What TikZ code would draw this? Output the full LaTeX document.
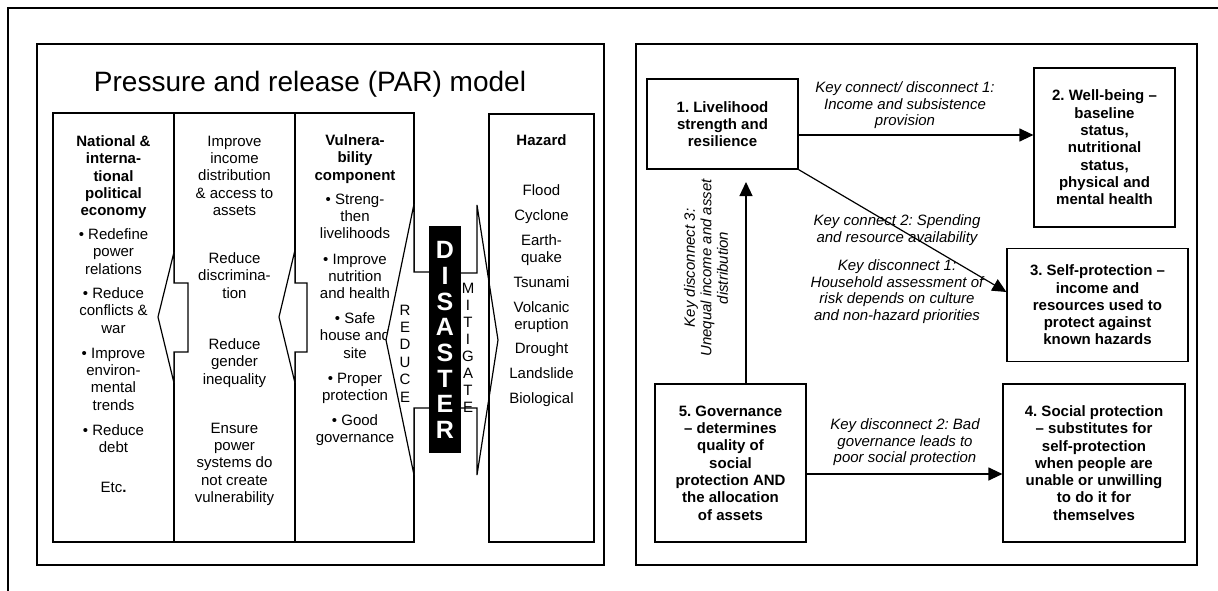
\documentclass[tikz,border=0pt]{standalone}
\usepackage{fontspec}
\setmainfont{Liberation Sans}
\usetikzlibrary{arrows.meta,calc}
\frenchspacing
\begin{document}
\begin{tikzpicture}[x=1pt,y=-1pt,
 every node/.style={inner sep=0pt},
 frameline/.style={line width=1.6pt},
 panelline/.style={line width=2.4pt},
 colline/.style={line width=1.2pt},
 arrshape/.style={line width=1.2pt, fill=white, line join=miter},
 ctext/.style={font=\fontsize{15}{17.3}\selectfont, align=center, anchor=north, yshift=5.4pt},
 cbold/.style={ctext, font=\fontsize{15}{17.3}\selectfont\bfseries},
 ltext/.style={font=\fontsize{15}{16.6}\selectfont\itshape, align=center, anchor=north, yshift=5.4pt},
 rbox/.style={draw, line width=1.2pt, align=center, font=\fontsize{15}{17.3}\selectfont\bfseries, inner sep=0pt},
 conn/.style={line width=1.2pt, -{Triangle[length=14pt,width=13pt]}},
 dletter/.style={font=\fontsize{25}{25}\selectfont\bfseries, text=white},
 rletter/.style={font=\fontsize{15}{15}\selectfont},
]
\useasboundingbox (0,0) rectangle (1218,591);
% outer frame
\draw[frameline] (8,591) -- (8,8) -- (1218,8);
% panels
\draw[panelline] (37,44) rectangle (604,565);
\draw[panelline] (636,44) rectangle (1197,565);

% ===== left panel =====
\node[font=\fontsize{28}{30}\selectfont, anchor=base] (title) at (310,92) {Pressure and release (PAR) model};

\draw[colline] (53,113) rectangle (174,542);
\draw[colline] (174,113) rectangle (295,542);
\draw[colline] (295,113) rectangle (414,542);

% column 1
\node[cbold] (c1h) at (113.5,141) {National \&\\interna-\\tional\\political\\economy};
\node[ctext] (c1a) at (113.5,234) {• Redefine\\power\\relations};
\node[ctext] (c1b) at (113.5,293) {• Reduce\\conflicts \&\\war};
\node[ctext] (c1c) at (113.5,353) {• Improve\\environ-\\mental\\trends};
\node[ctext] (c1d) at (113.5,430) {• Reduce\\debt};
\node[ctext] (c1e) at (113.5,487) {Etc{\bfseries .}};
% column 2
\node[ctext] (c2a) at (234.5,141) {Improve\\income\\distribution\\\& access to\\assets};
\node[ctext] (c2b) at (234.5,258) {Reduce\\discrimina-\\tion};
\node[ctext] (c2c) at (234.5,344) {Reduce\\gender\\inequality};
\node[ctext] (c2d) at (234.5,428) {Ensure\\power\\systems do\\not create\\vulnerability};
% column 3
\node[cbold] (c3h) at (355,140) {Vulnera-\\bility\\component};
\node[ctext] (c3a) at (355,199) {• Streng-\\then\\livelihoods};
\node[ctext] (c3b) at (355,259) {• Improve\\nutrition\\and health};
\node[ctext] (c3c) at (355,318) {• Safe\\house and\\site};
\node[ctext] (c3d) at (355,378) {• Proper\\protection};
\node[ctext] (c3e) at (355,420) {• Good\\governance};

% release arrows between columns
\draw[arrshape] (158,317) -- (174,252) -- (174,283) -- (188,283) -- (188,352) -- (174,352) -- (174,383) -- cycle;
\draw[arrshape] (279,317) -- (295,250) -- (295,283) -- (307,283) -- (307,352) -- (295,352) -- (295,383) -- cycle;
% REDUCE and MITIGATE arrows
\draw[arrshape] (386,340) -- (414,204) -- (414,272) -- (440,272) -- (440,408) -- (414,408) -- (414,475) -- cycle;
\draw[arrshape] (498,340) -- (477,205) -- (477,273) -- (450,273) -- (450,408) -- (477,408) -- (477,475) -- cycle;

% DISASTER box
\node[fill=black, minimum width=32pt, minimum height=227pt] (dis) at (445,339.5) {};
\foreach \l [count=\i from 0] in {D,I,S,A,S,T,E,R}
  \node[dletter] (dl\i) at (445,{250+25.7*\i}) {\l};
\foreach \l [count=\i from 0] in {R,E,D,U,C,E}
  \node[rletter] (rl\i) at (405,{310+17.4*\i}) {\l};
\foreach \l [count=\i from 0] in {M,I,T,I,G,A,T,E}
  \node[rletter] (ml\i) at (468,{288+17.1*\i}) {\l};

% hazard column
\draw[colline] (489,114) rectangle (594,542);
\node[cbold] (hz) at (541.5,140) {Hazard};
\node[ctext] (h1) at (541.5,190) {Flood};
\node[ctext] (h2) at (541.5,215) {Cyclone};
\node[ctext] (h3) at (541.5,240) {Earth-\\quake};
\node[ctext] (h4) at (541.5,282) {Tsunami};
\node[ctext] (h5) at (541.5,307) {Volcanic\\eruption};
\node[ctext] (h6) at (541.5,348) {Drought};
\node[ctext] (h7) at (541.5,373) {Landslide};
\node[ctext] (h8) at (541.5,398) {Biological};

% ===== right panel =====
\node[rbox, minimum width=151pt, minimum height=90pt] (b1) at (722.5,124) {1. Livelihood\\strength and\\resilience};
\node[rbox, minimum width=141pt, minimum height=159pt] (b2) at (1104.5,147.5) {2. Well-being –\\baseline\\status,\\nutritional\\status,\\physical and\\mental health};
\node[rbox, minimum width=181pt, minimum height=113pt] (b3) at (1097.5,305) {3. Self-protection –\\income and\\resources used to\\protect against\\known hazards};
\node[rbox, minimum width=182pt, minimum height=158pt] (b4) at (1094,463) {4. Social protection\\– substitutes for\\self-protection\\when people are\\unable or unwilling\\to do it for\\themselves};
\node[rbox, minimum width=151pt, minimum height=158pt] (b5) at (730.5,463) {5. Governance\\– determines\\quality of\\social\\protection AND\\the allocation\\of assets};

\coordinate (h1y) at (0,135);
\coordinate (dgy) at (0,292);
\coordinate (h2y) at (0,474);
\coordinate (vt) at (746,182);
\draw[conn] (b1.east |- h1y) -- (b2.west |- h1y);
\draw[conn] (b1.south east) -- (b3.west |- dgy);
\draw[conn] (b5.north -| vt) -- (vt);
\draw[conn] (b5.east |- h2y) -- (b4.west |- h2y);

\node[ltext] (l1) at (905,87) {Key connect/ disconnect 1:\\Income and subsistence\\provision};
\node[ltext] (l2) at (897,220) {Key connect 2: Spending\\and resource availability};
\node[ltext] (l2b) at (897,265) {Key disconnect 1:\\Household assessment of\\risk depends on culture\\and non-hazard priorities};
\node[ltext] (l4) at (905,424) {Key disconnect 2: Bad\\governance leads to\\poor social protection};
\node[font=\fontsize{15}{16.6}\selectfont\itshape, align=center, rotate=90] (l3) at (706,268) {Key disconnect 3:\\Unequal income and asset\\distribution};
\end{tikzpicture}
\end{document}
